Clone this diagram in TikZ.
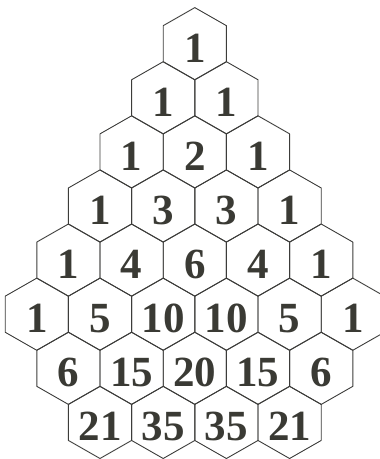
\documentclass[tikz,border=0pt]{standalone}
\usepackage{fontspec}
\setmainfont{Liberation Serif}
\definecolor{numcol}{RGB}{58,58,52}
\definecolor{linecol}{RGB}{60,60,58}
\begin{document}
\begin{tikzpicture}[x=1pt,y=-1pt,
  hexline/.style={draw=linecol, line width=0.9pt, line join=round},
  num/.style={text=numcol, font=\fontsize{43}{43}\selectfont\bfseries, inner sep=0pt}]
\useasboundingbox (0,0) rectangle (380,459);
\clip (0,0) rectangle (380,459);
\def\xo{194.8}\def\yo{43.7}\def\dx{63.2}\def\dy{54.1}\def\hw{31.6}\def\hr{36.1}
\foreach \n/\k/\v in {0/0/1,
  1/0/1, 1/1/1,
  2/0/1, 2/1/2, 2/2/1,
  3/0/1, 3/1/3, 3/2/3, 3/3/1,
  4/0/1, 4/1/4, 4/2/6, 4/3/4, 4/4/1,
  5/0/1, 5/1/5, 5/2/10, 5/3/10, 5/4/5, 5/5/1,
  6/1/6, 6/2/15, 6/3/20, 6/4/15, 6/5/6,
  7/2/21, 7/3/35, 7/4/35, 7/5/21}{
  \pgfmathsetmacro\cx{\xo+(\k-\n/2)*\dx}
  \pgfmathsetmacro\cy{\yo+\n*\dy}
  \draw[hexline] (\cx,\cy-\hr) -- (\cx+\hw,\cy-\hr/2) -- (\cx+\hw,\cy+\hr/2)
     -- (\cx,\cy+\hr) -- (\cx-\hw,\cy+\hr/2) -- (\cx-\hw,\cy-\hr/2) -- cycle;
  \node[num] (h\n-\k) at (\cx,\cy+4.3) {\v};
}
\end{tikzpicture}
\end{document}
